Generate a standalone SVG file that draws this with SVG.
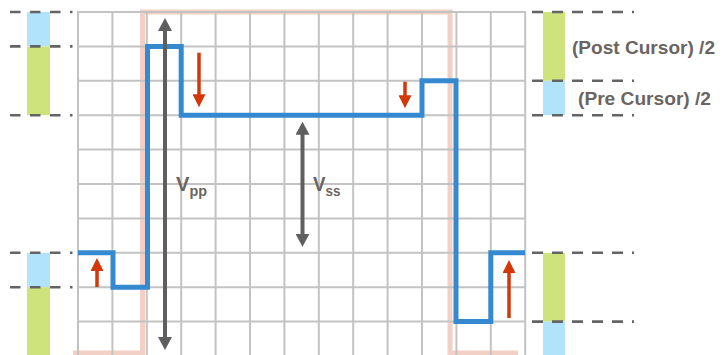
<svg xmlns="http://www.w3.org/2000/svg" width="722" height="355" viewBox="0 0 722 355">
<style>
.grid{fill:none;stroke:#c3c3c3;stroke-width:2}
.pulse{fill:none;stroke:#f3d0c5;stroke-width:5}
.wave{fill:none;stroke:#3489d0;stroke-width:5}
.garrow{stroke:#5f5f5f;stroke-width:4;marker-start:url(#gh);marker-end:url(#gh)}
.rarrow{stroke:#d2380a;stroke-width:3.5;marker-end:url(#rh)}
.dash{stroke:#646464;stroke-width:2.6;stroke-dasharray:10.5 9.5;fill:none}
.dashr{stroke:#646464;stroke-width:2.6;stroke-dasharray:11 9;fill:none}
.blue{fill:#b2e3fc}
.green{fill:#cfe37d}
.lbl{font-family:"Liberation Sans",Arial,sans-serif;font-weight:bold;fill:#6b6461}
</style>
<defs>
<marker id="gh" viewBox="0 0 13 14" refX="3" refY="7" markerWidth="13" markerHeight="14" markerUnits="userSpaceOnUse" orient="auto-start-reverse">
<path d="M0,0 L13,7 L0,14 z" fill="#5f5f5f"/>
</marker>
<marker id="rh" viewBox="0 0 13 13" refX="3" refY="6.5" markerWidth="13" markerHeight="13" markerUnits="userSpaceOnUse" orient="auto">
<path d="M0,0 L13,6.5 L0,13 z" fill="#d2380a"/>
</marker>
</defs>

<g id="pulse">
<path class="pulse" d="M73,353 H142.5 V12 H450 V353 H518"/>
</g>

<g id="grid">
<path class="grid" d="M78,11 V355 M112.4,11 V355 M146.8,11 V355 M181.2,11 V355 M215.6,11 V355 M250,11 V355 M284.4,11 V355 M318.8,11 V355 M353.2,11 V355 M387.6,11 V355 M422,11 V355 M456.4,11 V355 M490.8,11 V355 M525.2,11 V355 M77,12 H526 M77,46.4 H526 M77,80.8 H526 M77,115.2 H526 M77,149.6 H526 M77,184 H526 M77,218.4 H526 M77,252.8 H526 M77,287.2 H526 M77,321.6 H526"/>
</g>

<g id="left-bars">
<rect class="blue" x="27" y="12" width="23" height="34.4"/>
<rect class="green" x="27" y="46.4" width="23" height="68.8"/>
<rect class="blue" x="27" y="252.8" width="23" height="34.4"/>
<rect class="green" x="27" y="287.2" width="23" height="68"/>
<path class="dash" d="M10,12 H72.5 M10,46.4 H72.5 M10,115.2 H72.5 M10,252.8 H72.5 M10,287.2 H72.5"/>
</g>

<g id="right-bars">
<rect class="green" x="543" y="12" width="22" height="68.8"/>
<rect class="blue" x="543" y="80.8" width="22" height="34.4"/>
<rect class="green" x="543" y="252.8" width="22" height="68.8"/>
<rect class="blue" x="543" y="321.6" width="22" height="34"/>
<path class="dashr" d="M532,12 H634 M532,80.8 H634 M532,115.2 H634 M532,252.8 H634 M532,321.6 H634"/>
</g>

<g id="waveform">
<path class="wave" d="M78,252.8 H113 V287.2 H147.5 V46.4 H181.2 V115.2 H422 V80.8 H456 V321.6 H490.8 V252.8 H525"/>
</g>

<g id="connectors">
<line class="garrow" x1="165" y1="28" x2="165" y2="340"/>
<line class="garrow" x1="302.5" y1="131.7" x2="302.5" y2="236.7"/>
<line class="rarrow" x1="199" y1="52.7" x2="199" y2="97.3"/>
<line class="rarrow" x1="405" y1="81.7" x2="405" y2="98.3"/>
<line class="rarrow" x1="97" y1="287" x2="97" y2="268"/>
<line class="rarrow" x1="509" y1="318" x2="509" y2="270"/>
</g>

<g id="vpp-label">
<text class="lbl" x="176" y="190.5" font-size="21" textLength="31" lengthAdjust="spacingAndGlyphs">V<tspan font-size="15" dy="5">pp</tspan></text>
</g>
<g id="vss-label">
<text class="lbl" x="313" y="190.5" font-size="21" textLength="27.5" lengthAdjust="spacingAndGlyphs">V<tspan font-size="15" dy="5">ss</tspan></text>
</g>
<g id="post-label">
<text class="lbl" x="572" y="54" font-size="19" textLength="143" lengthAdjust="spacingAndGlyphs">(Post Cursor) /2</text>
</g>
<g id="pre-label">
<text class="lbl" x="578" y="104.5" font-size="19" textLength="133" lengthAdjust="spacingAndGlyphs">(Pre Cursor) /2</text>
</g>
</svg>
